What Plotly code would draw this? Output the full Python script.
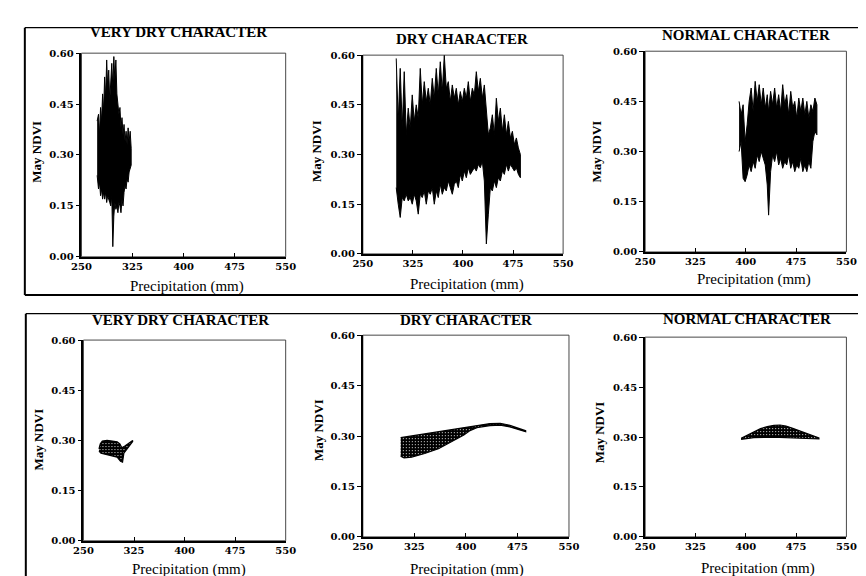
import plotly.graph_objects as go

W, H = 866, 576

# ---------------- data ----------------
x_ticks = [250, 325, 400, 475, 550]
x_tick_text = ["250", "325", "400", "475", "550"]
y_ticks = [0.0, 0.15, 0.30, 0.45, 0.60]
y_tick_text = ["0.00", "0.15", "0.30", "0.45", "0.60"]

titles = ["VERY DRY CHARACTER", "DRY CHARACTER", "NORMAL CHARACTER",
          "VERY DRY CHARACTER", "DRY CHARACTER", "NORMAL CHARACTER"]
x_title = "Precipitation (mm)"
y_title = "May NDVI"

# top row: observed May NDVI (envelope of the dense series: high / low per precipitation)
vd_obs_x = [273, 275, 276.5, 278, 279.5, 281, 282.5, 284, 285.5, 287, 288.5, 290, 291.5, 293,
            294.5, 296, 297.5, 299, 300.5, 302, 303.5, 305, 306.5, 308, 309.5, 311, 312.5,
            314, 315.5, 317, 318.5, 320, 321.5, 323]
vd_obs_hi = [0.40, 0.42, 0.36, 0.44, 0.40, 0.48, 0.43, 0.53, 0.47, 0.58, 0.50, 0.55, 0.46, 0.52,
             0.57, 0.50, 0.59, 0.52, 0.58, 0.48, 0.45, 0.42, 0.44, 0.38, 0.41, 0.36, 0.39,
             0.34, 0.37, 0.33, 0.38, 0.34, 0.37, 0.32]
vd_obs_lo = [0.24, 0.20, 0.22, 0.18, 0.20, 0.17, 0.19, 0.17, 0.19, 0.16, 0.18, 0.17, 0.16, 0.15,
             0.18, 0.03, 0.12, 0.16, 0.14, 0.15, 0.13, 0.16, 0.15, 0.13, 0.17, 0.15, 0.19,
             0.21, 0.20, 0.23, 0.22, 0.25, 0.26, 0.27]

d_obs_x = [300, 303, 306, 309, 312, 315, 318, 321, 324, 327, 330, 333, 336, 339, 342, 345, 348,
           351, 354, 357, 360, 363, 366, 369, 372, 375, 378, 381, 384, 387, 390, 393, 396, 399,
           402, 405, 408, 411, 414, 417, 420, 423, 426, 429, 432, 435, 438, 441, 444, 447, 450,
           453, 456, 459, 462, 465, 468, 471, 474, 477, 480, 483, 486]
d_obs_hi = [0.59, 0.40, 0.56, 0.38, 0.55, 0.36, 0.44, 0.38, 0.48, 0.40, 0.45, 0.41, 0.56, 0.45,
            0.52, 0.46, 0.50, 0.45, 0.53, 0.47, 0.56, 0.48, 0.58, 0.49, 0.60, 0.50, 0.52, 0.46,
            0.51, 0.47, 0.50, 0.45, 0.49, 0.46, 0.50, 0.47, 0.52, 0.46, 0.50, 0.48, 0.55, 0.49,
            0.53, 0.47, 0.51, 0.44, 0.36, 0.38, 0.42, 0.36, 0.47, 0.40, 0.44, 0.37, 0.42, 0.36,
            0.40, 0.35, 0.37, 0.33, 0.35, 0.32, 0.30]
d_obs_lo = [0.20, 0.15, 0.11, 0.17, 0.16, 0.18, 0.16, 0.17, 0.15, 0.18, 0.16, 0.12, 0.18, 0.17,
            0.19, 0.15, 0.19, 0.18, 0.20, 0.15, 0.19, 0.17, 0.21, 0.18, 0.20, 0.19, 0.22, 0.20,
            0.18, 0.21, 0.22, 0.20, 0.24, 0.22, 0.25, 0.23, 0.26, 0.24, 0.25, 0.26, 0.25, 0.27,
            0.26, 0.28, 0.22, 0.03, 0.12, 0.20, 0.19, 0.22, 0.20, 0.23, 0.22, 0.25, 0.24, 0.27,
            0.25, 0.27, 0.26, 0.25, 0.26, 0.24, 0.23]

n_obs_x = [390, 393, 396, 399, 402, 405, 408, 411, 414, 417, 420, 423, 426, 429, 432, 434, 437,
           440, 443, 446, 449, 452, 455, 458, 461, 464, 467, 470, 473, 476, 479, 482, 485, 488,
           491, 494, 497, 500, 503, 506]
n_obs_hi = [0.45, 0.41, 0.44, 0.33, 0.38, 0.45, 0.49, 0.42, 0.51, 0.45, 0.50, 0.44, 0.49, 0.43,
            0.47, 0.42, 0.48, 0.44, 0.49, 0.43, 0.47, 0.42, 0.50, 0.44, 0.47, 0.41, 0.48, 0.43,
            0.45, 0.40, 0.46, 0.42, 0.46, 0.41, 0.45, 0.40, 0.44, 0.42, 0.46, 0.44]
n_obs_lo = [0.30, 0.33, 0.22, 0.21, 0.23, 0.26, 0.24, 0.27, 0.25, 0.29, 0.27, 0.30, 0.28, 0.26,
            0.20, 0.11, 0.24, 0.29, 0.27, 0.30, 0.26, 0.28, 0.25, 0.27, 0.26, 0.29, 0.25, 0.27,
            0.24, 0.26, 0.25, 0.28, 0.24, 0.26, 0.24, 0.27, 0.25, 0.33, 0.36, 0.35]

# bottom row: modelled May NDVI (upper and lower boundary of the shaded region)
vd_mod_up_x = [273, 275, 278, 285, 293, 300, 304, 307, 312, 318, 323]
vd_mod_up_y = [0.275, 0.290, 0.298, 0.300, 0.298, 0.296, 0.290, 0.278, 0.284, 0.292, 0.300]
vd_mod_lo_x = [273, 276, 282, 290, 300, 305, 308, 310, 316, 323]
vd_mod_lo_y = [0.268, 0.262, 0.258, 0.255, 0.250, 0.238, 0.235, 0.262, 0.280, 0.297]

d_mod_up_x = [305, 321, 340, 360, 378, 397, 416, 435, 450, 464, 478, 487]
d_mod_up_y = [0.295, 0.300, 0.308, 0.313, 0.320, 0.326, 0.332, 0.337, 0.338, 0.332, 0.322, 0.316]
d_mod_lo_x = [305, 310, 321, 340, 360, 378, 397, 405, 416, 435, 450, 464, 478, 487]
d_mod_lo_y = [0.240, 0.235, 0.237, 0.248, 0.262, 0.283, 0.303, 0.315, 0.325, 0.331, 0.332,
              0.327, 0.318, 0.313]

n_mod_up_x = [393, 400, 412, 422, 432, 442, 451, 460, 470, 480, 490, 500, 509]
n_mod_up_y = [0.296, 0.303, 0.316, 0.325, 0.331, 0.335, 0.336, 0.333, 0.326, 0.319, 0.312,
              0.305, 0.297]
n_mod_lo_x = [393, 412, 430, 450, 470, 490, 509]
n_mod_lo_y = [0.293, 0.298, 0.299, 0.299, 0.298, 0.296, 0.294]

# ---------------- layout helpers (pixel geometry) ----------------
# plot areas: (left, right, top, bottom) in pixels
areas = [(65, 274, 40, 248), (353, 558, 42, 245), (642, 848, 38, 243),
         (67, 274, 333, 538), (353, 564, 328, 534), (642, 848, 330, 534)]
title_pos = [(164, 18), (455, 26), (745, 21), (166, 312), (459, 313), (746, 311)]
xtitle_pos = [(173, 278), (460, 276), (753, 271), (175, 567), (460, 567), (757, 566)]
ytitle_pos = [(18, 141), (305, 140), (592, 140), (21, 435), (307, 425), (595, 427)]

SERIF = "Liberation Serif"
TICKSERIF = "DejaVu Serif"


def fx(p):
    return p / W


def fy(p):
    return 1 - p / H


fig = go.Figure()

top_sets = [(vd_obs_x, vd_obs_hi, vd_obs_lo), (d_obs_x, d_obs_hi, d_obs_lo),
            (n_obs_x, n_obs_hi, n_obs_lo)]
bot_sets = [(vd_mod_up_x, vd_mod_up_y, vd_mod_lo_x, vd_mod_lo_y),
            (d_mod_up_x, d_mod_up_y, d_mod_lo_x, d_mod_lo_y),
            (n_mod_up_x, n_mod_up_y, n_mod_lo_x, n_mod_lo_y)]

for i, (xs, hi, lo) in enumerate(top_sets):
    k = i + 1
    fig.add_trace(go.Scatter(
        x=list(xs) + list(xs)[::-1], y=list(hi) + list(lo)[::-1],
        mode="lines", fill="toself", fillcolor="black",
        line=dict(color="black", width=1),
        xaxis="x" + ("" if k == 1 else str(k)), yaxis="y" + ("" if k == 1 else str(k)),
        showlegend=False, hoverinfo="skip"))

for i, (ux, uy, lx, ly) in enumerate(bot_sets):
    k = i + 4
    fig.add_trace(go.Scatter(
        x=list(ux) + list(lx)[::-1], y=list(uy) + list(ly)[::-1],
        mode="lines", fill="toself", fillcolor="black",
        fillpattern=dict(shape=".", bgcolor="black", fgcolor="white", size=3, solidity=0.12,
                         fillmode="replace"),
        line=dict(color="black", width=1.2),
        xaxis="x" + str(k), yaxis="y" + str(k),
        showlegend=False, hoverinfo="skip"))

tickfont = dict(family=TICKSERIF, size=10, color="black", weight="bold")
layout = dict(width=W, height=H, margin=dict(l=0, r=0, t=0, b=0),
              paper_bgcolor="white", plot_bgcolor="white", showlegend=False)

annotations = []
shapes = []
for j, (l, r, t, b) in enumerate(areas):
    k = j + 1
    sx = "" if k == 1 else str(k)
    layout["xaxis" + sx] = dict(
        domain=[fx(l), fx(r)], range=[250, 550], anchor="y" + sx,
        tickvals=x_ticks, ticktext=x_tick_text, ticks="inside", ticklen=4,
        tickcolor="black", showline=True, linecolor="black", linewidth=1.8,
        showgrid=False, zeroline=False, tickfont=tickfont, fixedrange=True,
        ticklabelstandoff=-1)
    layout["yaxis" + sx] = dict(
        domain=[fy(b), fy(t)], range=[0, 0.6], anchor="x" + sx,
        tickvals=y_ticks, ticktext=y_tick_text, ticks="outside", ticklen=4,
        tickcolor="black", showline=True, linecolor="black", linewidth=1.8,
        showgrid=False, zeroline=False, tickfont=tickfont, fixedrange=True)
    # thin frame on the top and right of each plot
    shapes.append(dict(type="rect", xref="x" + sx + " domain", yref="y" + sx + " domain",
                       x0=0, x1=1, y0=0, y1=1, line=dict(color="#333333", width=0.9),
                       layer="below"))
    tx, ty = title_pos[j]
    annotations.append(dict(text=titles[j], x=fx(tx), y=fy(ty), xref="paper", yref="paper",
                            showarrow=False, xanchor="center", yanchor="middle",
                            font=dict(family=SERIF, size=15, color="black", weight="bold")))
    ax, ay = xtitle_pos[j]
    annotations.append(dict(text=x_title, x=fx(ax), y=fy(ay), xref="paper", yref="paper",
                            showarrow=False, xanchor="center", yanchor="middle",
                            font=dict(family=SERIF, size=15, color="black")))
    yx, yy = ytitle_pos[j]
    annotations.append(dict(text=y_title, x=fx(yx), y=fy(yy), xref="paper", yref="paper",
                            showarrow=False, xanchor="center", yanchor="middle", textangle=-90,
                            font=dict(family=SERIF, size=13, color="black", weight="bold")))

shapes += [
    # outer frame around the top row
    dict(type="line", xref="paper", yref="paper", x0=fx(7), x1=1.01, y0=fy(14), y1=fy(14),
         line=dict(color="black", width=1.2)),
    dict(type="line", xref="paper", yref="paper", x0=fx(7), x1=1.01, y0=fy(287), y1=fy(287),
         line=dict(color="black", width=2)),
    dict(type="line", xref="paper", yref="paper", x0=fx(7), x1=fx(7), y0=fy(14), y1=fy(287),
         line=dict(color="black", width=2)),
    # outer frame around the bottom row
    dict(type="line", xref="paper", yref="paper", x0=fx(8), x1=1.01, y0=fy(306), y1=fy(306),
         line=dict(color="black", width=1.2)),
    dict(type="line", xref="paper", yref="paper", x0=fx(8), x1=1.01, y0=fy(575), y1=fy(575),
         line=dict(color="black", width=1.5)),
    dict(type="line", xref="paper", yref="paper", x0=fx(8), x1=fx(8), y0=fy(306), y1=fy(576),
         line=dict(color="black", width=2)),
]

layout["annotations"] = annotations
layout["shapes"] = shapes
fig.update_layout(**layout)

fig.write_html("out.html")
